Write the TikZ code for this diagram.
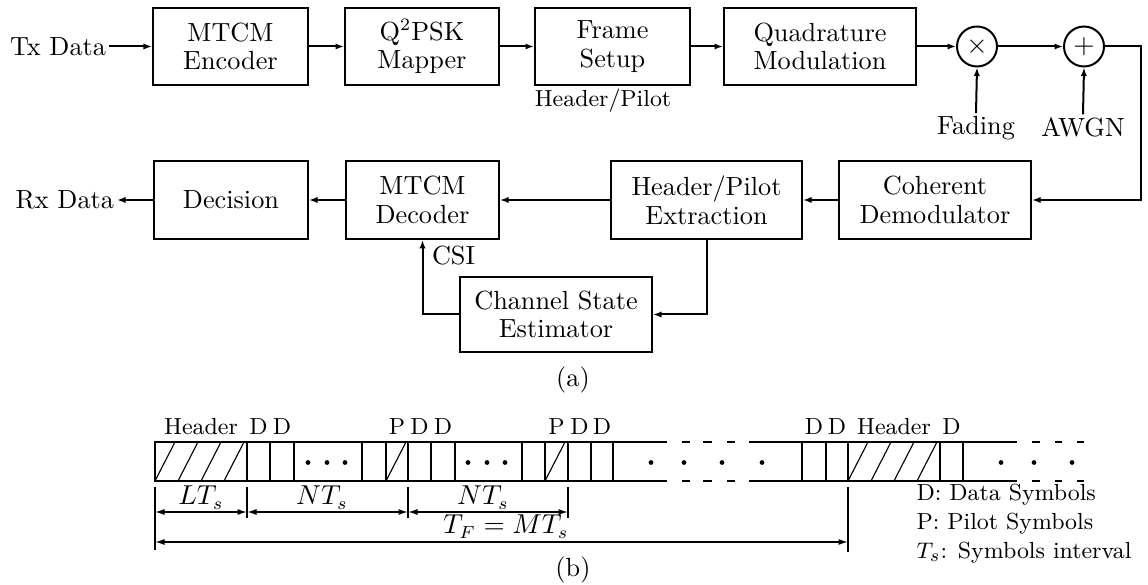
\documentclass[tikz,border=0pt]{standalone}
\usetikzlibrary{arrows.meta}
\newcommand\bigtxt{\fontsize{10.5}{11.5}\selectfont}
\newcommand\smalltxt{\fontsize{9.3}{11}\selectfont}
\begin{document}
\begin{tikzpicture}[x=0.4pt,y=-0.4pt,
  lw/.style={line width=0.8pt},
  box/.style={draw,line width=0.8pt,align=center,inner sep=0pt,font=\bigtxt},
  sumnode/.style={draw,circle,line width=0.8pt,minimum size=16pt,inner sep=0pt,font=\bigtxt},
  lbl/.style={inner sep=1pt,font=\bigtxt},
  slbl/.style={inner sep=0pt,font=\smalltxt},
  dlbl/.style={inner sep=0pt,font=\bigtxt},
  arr/.style={line width=0.8pt,-{Latex[length=3.4pt,width=2.5pt]}},
  dimarr/.style={line width=0.6pt,{Latex[length=3.8pt,width=2.4pt]}-{Latex[length=3.8pt,width=2.4pt]}},
  cell/.style={line width=0.7pt},
  hatch/.style={line width=0.45pt},
  tick/.style={line width=0.6pt}]
\useasboundingbox (0,0) rectangle (1148,585);

% ---------------- (a) transmitter / channel / receiver ----------------
\node[lbl,anchor=east] (tx) at (109,46.5) {Tx Data};
\node[box,minimum width=62pt,minimum height=30.8pt] (enc) at (230.5,46.5) {MTCM\\Encoder};
\node[box,minimum width=61.6pt,minimum height=30.8pt] (map) at (422,46.5) {Q$^2$PSK\\Mapper};
\node[box,minimum width=62pt,minimum height=30.8pt] (frm) at (612.5,46.5) {Frame\\Setup};
\node[slbl] (hpl) at (603,101) {Header/Pilot};
\node[box,minimum width=76.8pt,minimum height=30.8pt] (qmod) at (820,46.5) {Quadrature\\Modulation};
\node[sumnode] (mul) at (977,46.5) {$\times$};
\node[sumnode] (add) at (1084,46.5) {$+$};
\node[lbl] (fad) at (976,128) {Fading};
\node[lbl] (awgn) at (1083,127) {AWGN};

\draw[arr] (tx.east) -- (enc.west);
\draw[arr] (enc.east) -- (map.west);
\draw[arr] (map.east) -- (frm.west);
\draw[arr] (frm.east) -- (qmod.west);
\draw[arr] (qmod.east) -- (mul.west);
\draw[arr] (mul.east) -- (add.west);
\draw[arr] (fad.north) -- (mul.south);
\draw[arr] (awgn.north) -- (add.south);

\node[box,minimum width=61.6pt,minimum height=31.2pt] (dec) at (231,200) {Decision};
\node[box,minimum width=61.2pt,minimum height=31.2pt] (mdec) at (422.5,200) {MTCM\\Decoder};
\node[box,minimum width=76.4pt,minimum height=31.2pt] (hpe) at (706.5,200) {Header/Pilot\\Extraction};
\node[box,minimum width=76.8pt,minimum height=31.2pt] (coh) at (935,200) {Coherent\\Demodulator};
\node[box,minimum width=76.8pt,minimum height=30pt] (cse) at (556,314.5) {Channel State\\Estimator};
\node[lbl,anchor=east] (rx) at (117,200) {Rx Data};
\node[lbl,anchor=west] (csi) at (429,256) {CSI};

\coordinate (turn) at (1141,46.5);
\draw[arr] (add.east) -- (turn) |- (coh.east);
\draw[arr] (coh.west) -- (hpe.east);
\draw[arr] (hpe.west) -- (mdec.east);
\draw[arr] (mdec.west) -- (dec.east);
\draw[arr] (dec.west) -- (rx.east);
\draw[arr] (hpe.south) |- (cse.east);
\draw[arr] (cse.west) -| (mdec.south);

\node[lbl] (capa) at (573,380) {(a)};

% ---------------- (b) frame structure ----------------
\foreach \a/\b in {155/247,247/270,270/294,294/362,362/386,386/408,408/431,431/455,
                   455/522,522/545,545/568,568/591,591/613,802/826,826/848,848/940,940/963}
  \draw[cell] (\a,442) rectangle (\b,481);
\foreach \a/\b in {613/667,682/690,703/712,727/735,749/802,963/1017,1032/1040,1055/1062,1077/1084}{
  \draw[cell] (\a,442) -- (\b,442);
  \draw[cell] (\a,481) -- (\b,481);
}
% hatched header and pilot cells
\foreach \a/\b in {155/247,386/408,545/568,848/940}{
  \begin{scope}
    \clip (\a,442) rectangle (\b,481);
    \foreach \k in {-1,...,4}
      \draw[hatch] ({\a+\k*23},481) -- ({\a+\k*23+20},442);
  \end{scope}
}
% dots standing for omitted symbols
\foreach \x in {308,327,345,468,487,505,651,684,722,762,1001,1034,1072}
  \fill (\x,462.5) circle[radius=0.95pt];

% symbol labels above the frame
\foreach \x/\t/\n in {201/Header/h1,258.5/D/d1,282/D/d2,397/P/p1,419.5/D/d3,443/D/d4,
                      556.5/P/p2,579.5/D/d5,602/D/d6,814/D/d7,837/D/d8,894/Header/h2,951.5/D/d9}
  \node[slbl,anchor=base] (top\n) at (\x,435) {\t};

% timing dimensions
\coordinate (t0a) at (155,487); \coordinate (t0b) at (155,550);
\coordinate (t1a) at (247,487); \coordinate (t1b) at (247,518);
\coordinate (t2a) at (408,487); \coordinate (t2b) at (408,518);
\coordinate (t3a) at (568,487); \coordinate (t3b) at (568,518);
\coordinate (t4a) at (848,487); \coordinate (t4b) at (848,552);
\foreach \n in {0,...,4} \draw[tick] (t\n a) -- (t\n b);

\coordinate (l0) at (155,512); \coordinate (l1) at (247,512);
\coordinate (l2) at (408,512); \coordinate (l3) at (568,512);
\coordinate (f0) at (155,542); \coordinate (f1) at (848,542);
\draw[dimarr] (l0) -- (l1);
\draw[dimarr] (l1) -- (l2);
\draw[dimarr] (l2) -- (l3);
\draw[dimarr] (f0) -- (f1);

\node[dlbl,anchor=base] (lts) at (201,505) {$LT_s$};
\node[dlbl,anchor=base] (nts1) at (322,505) {$NT_s$};
\node[dlbl,anchor=base] (nts2) at (483,505) {$NT_s$};
\node[dlbl,anchor=base] (tf) at (506,534) {$T_F = MT_s$};

\node[slbl,anchor=base west] (leg1) at (916,501) {D: Data Symbols};
\node[slbl,anchor=base west] (leg2) at (916,530) {P: Pilot Symbols};
\node[slbl,anchor=base west] (leg3) at (916,559) {$T_s$: Symbols interval};

\node[lbl] (capb) at (573,570) {(b)};
\end{tikzpicture}
\end{document}
